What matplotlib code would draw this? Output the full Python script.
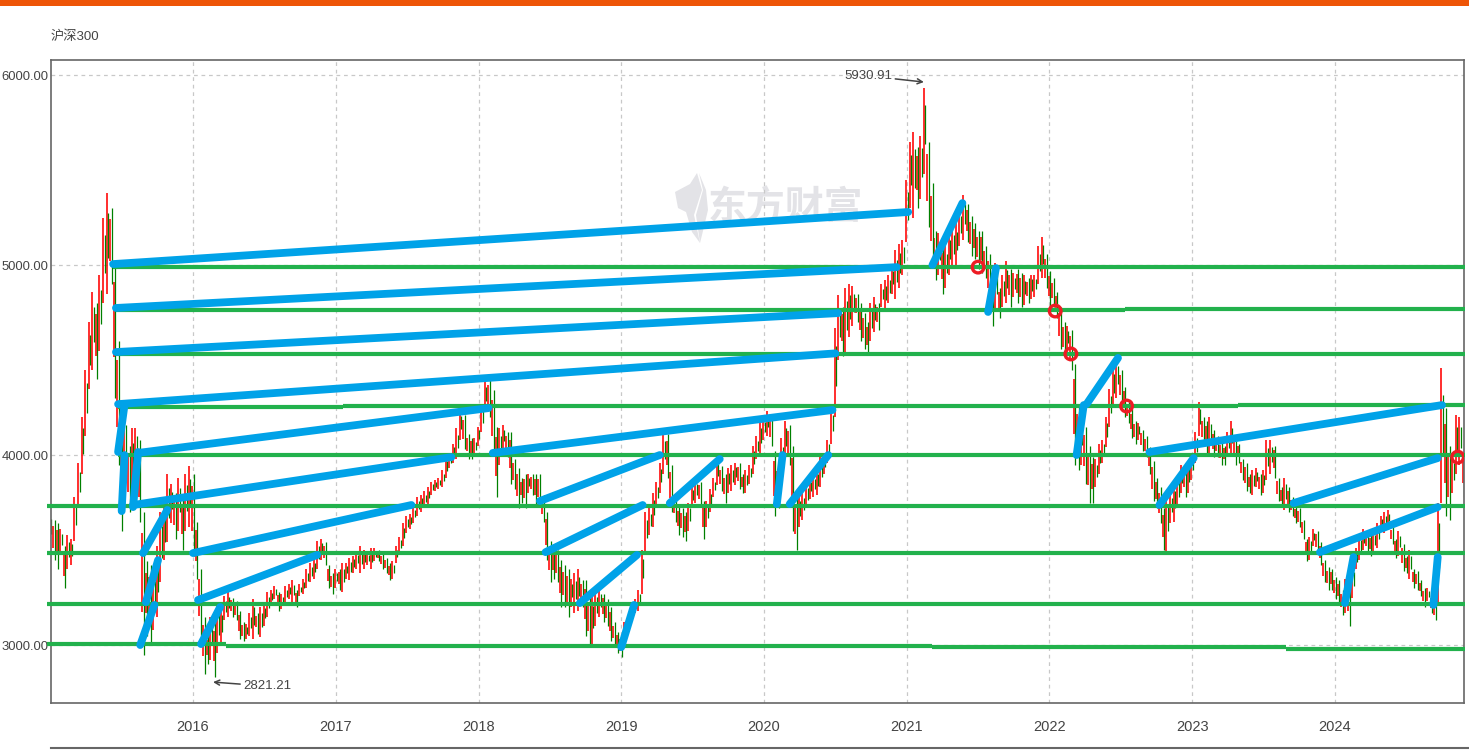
import numpy as np
import matplotlib
matplotlib.use("Agg")
import matplotlib.pyplot as plt
from matplotlib.patches import Polygon, Rectangle

W, H = 1469, 753

plt.rcParams["font.family"] = ["Liberation Sans", "Noto Sans CJK SC", "DejaVu Sans"]

years = [2015, 2016, 2017, 2018, 2019, 2020, 2021, 2022, 2023, 2024]
BARS_PER_YEAR = 40

# low / high per bar, one row per year
lows = [
    [3520, 3450, 3400, 3480, 3300, 3400, 3420, 3550, 3720, 3900, 4100, 4350, 4450, 4400, 4550, 4800, 4850, 4900, 4300, 3950,
     3600, 3800, 3700, 3750, 3950, 3650, 2950, 3050, 3000, 3080, 3150, 3330, 3450, 3540, 3640, 3560, 3600, 3500, 3600, 3620],
    [3470, 3350, 3050, 2850, 2900, 2920, 2830, 2960, 3000, 3130, 3150, 3150, 3130, 3030, 3020, 3030, 3050, 3030, 3060, 3040,
     3100, 3150, 3210, 3240, 3180, 3190, 3220, 3240, 3220, 3200, 3260, 3270, 3300, 3330, 3350, 3400, 3450, 3420, 3300, 3270],
    [3300, 3290, 3280, 3350, 3340, 3380, 3400, 3380, 3400, 3420, 3400, 3440, 3440, 3400, 3380, 3340, 3350, 3430, 3480, 3520,
     3590, 3610, 3640, 3680, 3700, 3720, 3740, 3790, 3810, 3820, 3830, 3880, 3930, 3960, 3980, 4080, 4030, 3980, 3980, 3990],
    [4050, 4120, 4230, 4200, 4000, 3780, 3950, 4030, 3990, 3850, 3820, 3720, 3750, 3720, 3800, 3790, 3740, 3730, 3650, 3450,
     3330, 3350, 3330, 3200, 3200, 3150, 3200, 3170, 3180, 3200, 3050, 3000, 3000, 3100, 3150, 3120, 3100, 3020, 3000, 2960],
    [2935, 3000, 3060, 3130, 3170, 3180, 3270, 3490, 3580, 3620, 3730, 3800, 3900, 3880, 3700, 3650, 3580, 3570, 3550, 3600,
     3720, 3750, 3730, 3560, 3620, 3700, 3780, 3840, 3810, 3750, 3800, 3810, 3840, 3820, 3800, 3800, 3850, 3900, 3980, 4000],
    [4080, 4100, 4050, 3680, 3720, 3850, 3980, 3950, 3600, 3500, 3620, 3660, 3720, 3770, 3780, 3790, 3830, 3900, 3960, 4060,
     4200, 4500, 4520, 4540, 4620, 4680, 4700, 4600, 4560, 4530, 4600, 4650, 4660, 4780, 4760, 4800, 4850, 4820, 4880, 4950],
    [5120, 5300, 5250, 5300, 5350, 5480, 5200, 5000, 4920, 4950, 4850, 4880, 4950, 4980, 5000, 5100, 5130, 5120, 5050, 5030,
     4980, 4960, 4930, 4800, 4680, 4760, 4720, 4780, 4800, 4780, 4830, 4800, 4780, 4790, 4800, 4820, 4830, 4900, 4930, 4880],
    [4780, 4780, 4720, 4560, 4510, 4540, 4450, 3950, 3920, 3950, 3850, 3750, 3750, 3830, 3900, 3960, 4040, 4150, 4250, 4300,
     4260, 4200, 4170, 4090, 4060, 4080, 4020, 3990, 3900, 3760, 3720, 3640, 3500, 3490, 3640, 3650, 3720, 3800, 3780, 3800],
    [3870, 3960, 4100, 4050, 4010, 4010, 3990, 3990, 3950, 3950, 3990, 4000, 3950, 3960, 3870, 3810, 3800, 3790, 3830, 3790,
     3800, 3870, 3900, 3880, 3760, 3730, 3710, 3700, 3680, 3640, 3620, 3560, 3440, 3450, 3520, 3480, 3420, 3330, 3290, 3290],
    [3240, 3220, 3160, 3170, 3100, 3250, 3400, 3450, 3500, 3490, 3470, 3490, 3510, 3600, 3590, 3620, 3530, 3460, 3470, 3390,
     3380, 3350, 3300, 3290, 3260, 3200, 3230, 3170, 3130, 3220, 3750, 3680, 3660, 3800, 3900, 3950, 3780],
]
highs = [
    [3700, 3660, 3640, 3610, 3520, 3580, 3560, 3780, 3960, 4200, 4450, 4700, 4860, 4800, 4950, 5250, 5380, 5300, 5020, 4600,
     4250, 4250, 4050, 4140, 4140, 4080, 3700, 3440, 3420, 3400, 3520, 3700, 3720, 3900, 3850, 3800, 3880, 3780, 3900, 3940],
    [3900, 3650, 3400, 3150, 3050, 3150, 3120, 3220, 3200, 3260, 3280, 3250, 3230, 3180, 3120, 3110, 3170, 3240, 3170, 3200,
     3220, 3280, 3290, 3310, 3280, 3270, 3310, 3320, 3340, 3290, 3320, 3350, 3400, 3430, 3450, 3550, 3560, 3540, 3420, 3380],
    [3400, 3400, 3430, 3430, 3460, 3470, 3490, 3520, 3500, 3490, 3510, 3510, 3500, 3480, 3460, 3430, 3440, 3520, 3570, 3640,
     3680, 3690, 3730, 3780, 3790, 3810, 3830, 3860, 3870, 3880, 3920, 3990, 4010, 4060, 4140, 4240, 4210, 4110, 4090, 4090],
    [4150, 4260, 4390, 4400, 4340, 4150, 4140, 4160, 4120, 4120, 3980, 3930, 3880, 3900, 3900, 3900, 3900, 3900, 3790, 3700,
     3550, 3500, 3500, 3450, 3420, 3400, 3350, 3380, 3400, 3340, 3340, 3250, 3260, 3290, 3300, 3270, 3240, 3200, 3120, 3070],
    [3050, 3120, 3160, 3210, 3240, 3290, 3500, 3700, 3720, 3800, 3860, 3960, 4120, 4110, 3950, 3800, 3730, 3720, 3700, 3750,
     3840, 3870, 3860, 3760, 3760, 3820, 3880, 3980, 3940, 3900, 3930, 3950, 3960, 3960, 3900, 3920, 3950, 4050, 4100, 4180],
    [4200, 4230, 4200, 4020, 3950, 4090, 4180, 4160, 4050, 3780, 3790, 3800, 3850, 3880, 3900, 3930, 3990, 4010, 4080, 4250,
     4670, 4840, 4780, 4880, 4900, 4890, 4850, 4800, 4750, 4700, 4800, 4830, 4800, 4900, 4920, 4950, 5000, 5080, 5110, 5130],
    [5450, 5650, 5700, 5620, 5680, 5930, 5650, 5430, 5180, 5170, 5100, 5100, 5180, 5200, 5220, 5300, 5370, 5320, 5260, 5220,
     5180, 5180, 5100, 5060, 5000, 5010, 4880, 4950, 5020, 4980, 4960, 4980, 4960, 4950, 4930, 4950, 4950, 5100, 5150, 5060],
    [4970, 4930, 4860, 4780, 4700, 4680, 4660, 4480, 4270, 4250, 4150, 4050, 3990, 3980, 4060, 4080, 4200, 4350, 4470, 4510,
     4450, 4360, 4280, 4240, 4180, 4170, 4130, 4100, 4040, 3970, 3880, 3830, 3720, 3800, 3810, 3850, 3890, 3950, 3960, 3970],
    [4010, 4120, 4280, 4200, 4180, 4200, 4130, 4100, 4070, 4050, 4120, 4180, 4100, 4060, 3980, 3960, 3900, 3920, 3930, 3900,
     3920, 4080, 4080, 4050, 3880, 3830, 3880, 3830, 3780, 3730, 3720, 3660, 3560, 3570, 3610, 3600, 3540, 3450, 3410, 3400],
    [3360, 3340, 3290, 3350, 3370, 3420, 3510, 3580, 3610, 3590, 3580, 3600, 3640, 3680, 3700, 3710, 3620, 3560, 3600, 3530,
     3470, 3500, 3400, 3390, 3340, 3300, 3300, 3260, 3230, 3750, 4460, 4250, 4050, 4000, 4210, 4200, 4030],
]

# horizontal levels drawn by hand, some with small steps
green_x1 = [2015.44, 2015.46, 2022.53, 2015.46, 2015.475, 2017.05, 2023.32, 2015.475, 2014.98, 2014.98, 2014.98, 2014.98, 2016.23, 2021.18, 2023.66]
green_x2 = [2024.91, 2022.53, 2024.91, 2024.91, 2017.05, 2023.32, 2024.91, 2024.91, 2024.91, 2024.91, 2024.91, 2016.23, 2021.18, 2023.66, 2024.91]
green_p = [4992, 4761, 4766, 4532, 4253, 4258, 4265, 4000, 3734, 3482, 3218, 3003, 2995, 2989, 2979]

# rising lines drawn by hand
blue_x1 = [2015.44, 2015.46, 2015.46, 2015.475, 2015.475, 2015.50, 2015.58, 2015.615, 2015.58, 2015.65, 2015.67, 2015.63,
           2016.0, 2016.035, 2016.056, 2018.10, 2018.43, 2018.47, 2019.34, 2018.71, 2019.00, 2020.09, 2020.18,
           2021.18, 2021.57, 2022.19, 2022.26, 2022.70, 2022.77, 2023.71, 2023.895, 2024.07, 2024.69]
blue_p1 = [5005, 4774, 4542, 4268, 4016, 3705, 3726, 4011, 3737, 3484, 3226, 3000,
           3484, 3237, 3005, 4011, 3758, 3489, 3747, 3221, 2989, 3742, 3742,
           5000, 4753, 4000, 4268, 4016, 3737, 3747, 3489, 3221, 3211]
blue_x2 = [2021.01, 2020.93, 2020.52, 2020.50, 2015.52, 2015.52, 2015.615, 2018.07, 2017.81, 2015.82, 2015.755, 2015.73,
           2017.53, 2016.87, 2016.19, 2020.48, 2019.27, 2019.15, 2019.69, 2019.11, 2019.09, 2020.13, 2020.45,
           2021.39, 2021.625, 2022.24, 2022.48, 2024.75, 2023.01, 2024.72, 2024.72, 2024.13, 2024.72]
blue_p2 = [5279, 4989, 4747, 4535, 4263, 4000, 4016, 4247, 3989, 3711, 3447, 3211,
           3737, 3474, 3200, 4237, 4000, 3737, 3979, 3474, 3211, 4000, 4000,
           5326, 4984, 4263, 4511, 4263, 3984, 3984, 3726, 3463, 3463]

circle_x = [2021.50, 2022.04, 2022.15, 2022.54, 2024.86]
circle_p = [4989, 4758, 4532, 4258, 3989]

x_ticks = [2016, 2017, 2018, 2019, 2020, 2021, 2022, 2023, 2024]
y_ticks = [3000, 4000, 5000, 6000]


def fig_xy(x, y):
    return x / W, 1 - y / H


fig = plt.figure(figsize=(W / 100, H / 100), dpi=100)
ax = fig.add_axes([51 / W, 1 - 703 / H, (1464 - 51) / W, (703 - 60) / H])
ax.set_xlim(2015.005, 2024.904)
ax.set_ylim(2695, 6079)
ax.patch.set_alpha(0)

# top band, bottom rule
fig.add_artist(Rectangle((0, 1 - 6 / H), 1, 6 / H, transform=fig.transFigure, color="#EE5507", lw=0))
fig.add_artist(plt.Line2D([51 / W, 1], [1 - 747.5 / H] * 2, transform=fig.transFigure, color="#666666", lw=1.5))

# watermark
fig.text(*fig_xy(785, 208), "东方财富", family="Noto Sans CJK SC", fontweight="bold", fontsize=28,
         color="#E3E3E7", ha="center", va="center", zorder=-5)
leaf = [(675, 192), (690, 184), (697, 173), (702, 190), (694, 215), (700, 243), (692, 232), (686, 212), (678, 208)]
leaf2 = [(699, 173), (706, 190), (708, 210), (702, 235), (700, 243), (696, 215), (703, 190)]
for shape in (leaf, leaf2):
    fig.add_artist(Polygon([fig_xy(*p) for p in shape], transform=fig.transFigure, color="#E3E3E7", lw=0, zorder=-5))

ax.set_xticks(x_ticks)
ax.set_yticks(y_ticks)
ax.set_xticklabels([str(v) for v in x_ticks])
ax.set_yticklabels([f"{v:.2f}" for v in y_ticks])
ax.tick_params(axis="y", length=0, labelsize=9.4, labelcolor="#444444", pad=2)
ax.tick_params(axis="x", length=0, labelsize=10.5, labelcolor="#444444", pad=12)
ax.grid(True, linestyle=(0, (3, 3)), color="#C8C8C8", linewidth=0.9)
ax.set_axisbelow(True)
for spine in ax.spines.values():
    spine.set_color("#666666")
    spine.set_linewidth(1.2)

fig.text(*fig_xy(51, 37), "沪深300", fontsize=9.5, color="#444444", ha="left", va="center")

# price bars, one red and one green tick per step, the one that fits the move runs full height
dates, bar_low, bar_high = [], [], []
for year, low_row, high_row in zip(years, lows, highs):
    for i, (lo, hi) in enumerate(zip(low_row, high_row)):
        dates.append(year + i / BARS_PER_YEAR)
        bar_low.append(lo)
        bar_high.append(hi)
dates = np.array(dates)
bar_low = np.array(bar_low)
bar_high = np.array(bar_high)
mid = (bar_low + bar_high) / 2
rising = np.r_[True, mid[1:] >= mid[:-1]]
span = bar_high - bar_low
offset = 0.0055
red_low = np.where(rising, bar_low, bar_low + 0.3 * span)
red_high = np.where(rising, bar_high, bar_high - 0.15 * span)
green_low = np.where(rising, bar_low + 0.35 * span, bar_low)
green_high = np.where(rising, bar_high - 0.2 * span, bar_high)
ax.vlines(dates - offset, red_low, red_high, colors="#FF0000", linewidth=1.15, zorder=2)
ax.vlines(dates + offset, green_low, green_high, colors="#008000", linewidth=0.9, zorder=2)

for x1, x2, p in zip(green_x1, green_x2, green_p):
    ax.plot([x1, x2], [p, p], color="#22B14C", lw=3.0, solid_capstyle="butt", clip_on=False, zorder=3)

for x1, p1, x2, p2 in zip(blue_x1, blue_p1, blue_x2, blue_p2):
    ax.plot([x1, x2], [p1, p2], color="#00A2E8", lw=5.6, solid_capstyle="round", zorder=4)

ax.scatter(circle_x, circle_p, s=70, facecolors="none", edgecolors="#ED1C24", linewidths=2.4, zorder=5)

arrow = dict(arrowstyle="->", color="#444444", lw=1.1, mutation_scale=9, shrinkA=0, shrinkB=0)
ax.annotate("5930.91", xy=(2021.12, 5963), xytext=(2020.90, 5995), fontsize=9.5, color="#444444",
            ha="right", va="center", arrowprops=arrow, zorder=6)
ax.annotate("2821.21", xy=(2016.14, 2805), xytext=(2016.35, 2784), fontsize=9.5, color="#444444",
            ha="left", va="center", arrowprops=arrow, zorder=6)

fig.savefig("out.png", dpi=100)
